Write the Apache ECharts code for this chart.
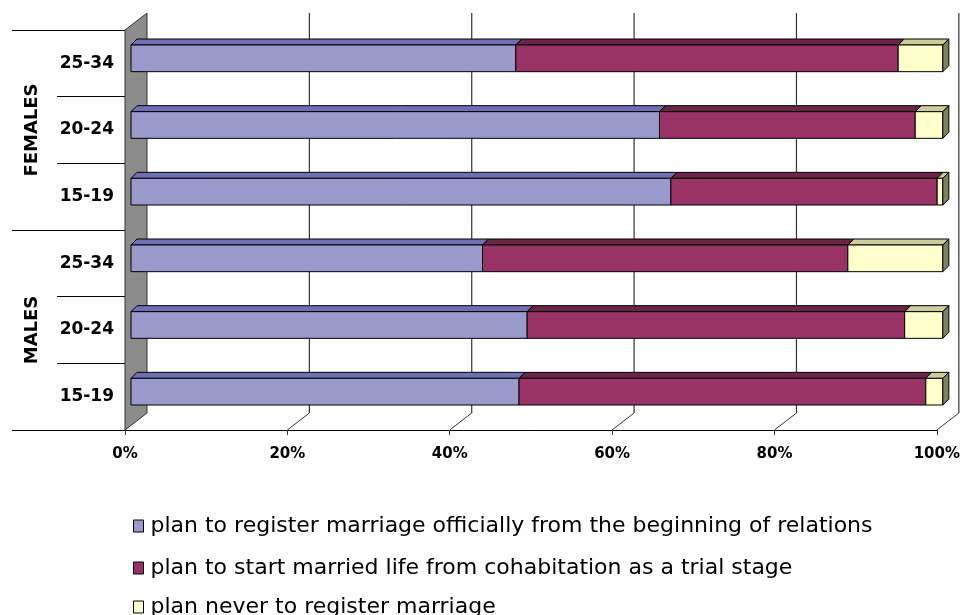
<!DOCTYPE html>
<html>
<head>
<meta charset="utf-8">
<script src="https://cdn.jsdelivr.net/npm/echarts@6/dist/echarts.min.js"></script>
<style>
  html, body { margin: 0; padding: 0; background: #fff; }
  #chart { width: 963px; height: 615px; }
</style>
</head>
<body>
<div id="chart"></div>
<script>
// categories, bottom to top
var ageLabels = ['15-19', '20-24', '25-34', '15-19', '20-24', '25-34'];
var groupLabels = ['MALES', 'FEMALES'];
var seriesNames = [
  'plan to register marriage officially from the beginning of relations',
  'plan to start married life from cohabitation as a trial stage',
  'plan never to register marriage'
];
// shares in %, same order as ageLabels
var registerOfficially = [47.8, 48.8, 43.3, 66.5, 65.1, 47.4];
var cohabitationFirst = [50.1, 46.5, 45.0, 32.8, 31.5, 47.1];
var neverRegister = [2.1, 4.7, 11.7, 0.7, 3.4, 5.5];
var xTicks = [0, 20, 40, 60, 80, 100];

var faceColors = [
  { front: '#9999cc', top: '#6f6fb5', side: '#55558a' },
  { front: '#993366', top: '#6b2347', side: '#4d1833' },
  { front: '#ffffcc', top: '#cccc9c', side: '#808062' }
];

// 3d look: depth of the whole plot box, and where the bars sit inside it
var BOX = [22, -17];
var BAR_OFF = [6, -5];
var BAR_DEP = [6, -6];

var all = [registerOfficially, cohabitationFirst, neverRegister];

function stackData(k) {
  return ageLabels.map(function (_, i) {
    var start = 0;
    for (var j = 0; j < k; j++) start += all[j][i];
    return [i, start, start + all[k][i]];
  });
}

function makeBarRender(k) {
  var c = faceColors[k];
  return function (params, api) {
    var cat = api.value(0);
    var s = api.value(1), e = api.value(2);
    var p0 = api.coord([s, cat]);
    var p1 = api.coord([e, cat]);
    var h = api.size([0, 1])[1] * 0.4;
    var x0 = p0[0] + BAR_OFF[0];
    var x1 = p1[0] + BAR_OFF[0];
    var yT = p0[1] + BAR_OFF[1] - h / 2;
    var yB = yT + h;
    var kids = [
      {
        type: 'polygon',
        shape: { points: [[x0, yT], [x0 + BAR_DEP[0], yT + BAR_DEP[1]], [x1 + BAR_DEP[0], yT + BAR_DEP[1]], [x1, yT]] },
        style: { fill: c.top, stroke: '#000', lineWidth: 1 }
      },
      {
        type: 'rect',
        shape: { x: x0, y: yT, width: x1 - x0, height: h },
        style: { fill: c.front, stroke: '#000', lineWidth: 1 }
      }
    ];
    if (k === all.length - 1) {
      kids.push({
        type: 'polygon',
        shape: { points: [[x1, yT], [x1 + BAR_DEP[0], yT + BAR_DEP[1]], [x1 + BAR_DEP[0], yB + BAR_DEP[1]], [x1, yB]] },
        style: { fill: c.side, stroke: '#000', lineWidth: 1 }
      });
    }
    return { type: 'group', children: kids };
  };
}

function renderBox(params, api) {
  var cs = params.coordSys;
  var v = api.value(0);
  var x = api.coord([v, 0])[0];
  var top = cs.y, bot = cs.y + cs.height;
  var kids = [];
  if (v === 0) {
    kids.push({
      type: 'polygon',
      shape: { points: [[x, top], [x + BOX[0], top + BOX[1]], [x + BOX[0], bot + BOX[1]], [x, bot]] },
      style: { fill: '#8c8c8c', stroke: '#333', lineWidth: 1 }
    });
  } else {
    kids.push({
      type: 'line',
      shape: { x1: x + BOX[0], y1: top + BOX[1], x2: x + BOX[0], y2: bot + BOX[1] },
      style: { stroke: '#333', lineWidth: 1.2 }
    });
    kids.push({
      type: 'line',
      shape: { x1: x + BOX[0], y1: bot + BOX[1], x2: x, y2: bot },
      style: { stroke: '#333', lineWidth: 1 }
    });
  }
  return { type: 'group', children: kids };
}

var series = [{
  type: 'custom',
  name: 'box',
  renderItem: renderBox,
  encode: { x: 0, y: 1 },
  data: xTicks.map(function (v) { return [v, 0]; }),
  silent: true,
  z: 1
}];
seriesNames.forEach(function (name, k) {
  series.push({
    type: 'custom',
    name: name,
    renderItem: makeBarRender(k),
    encode: { x: [1, 2], y: 0 },
    itemStyle: { color: faceColors[k].front },
    data: stackData(k),
    z: 2 + k
  });
});

// one legend block per row so they stack like the original
var legendTops = [510, 552, 591];
var legends = seriesNames.map(function (name, k) {
  return {
    data: [name],
    orient: 'vertical',
    left: 128,
    top: legendTops[k],
    itemWidth: 10,
    itemHeight: 12,
    itemGap: 5,
    icon: 'rect',
    itemStyle: { borderColor: '#000', borderWidth: 1 },
    textStyle: { color: '#000', fontFamily: 'DejaVu Sans', fontSize: 22, padding: [0, 0, 0, 2] }
  };
});

var myChart = echarts.init(document.getElementById('chart'));
var option = {
  animation: false,
  grid: { left: 125, right: 26, top: 30, bottom: 185 },
  xAxis: {
    type: 'value',
    min: 0,
    max: 100,
    interval: 20,
    axisLine: { show: true, lineStyle: { color: '#000', width: 1 } },
    axisTick: { show: true, length: 5, lineStyle: { color: '#333' } },
    splitLine: { show: false },
    axisLabel: {
      formatter: '{value}%',
      margin: 17,
      color: '#000',
      fontFamily: 'DejaVu Sans',
      fontWeight: 'bold',
      fontSize: 15
    }
  },
  yAxis: [
    {
      type: 'category',
      data: ageLabels,
      axisLine: { show: false },
      axisTick: { show: true, length: 68, lineStyle: { color: '#000' } },
      axisLabel: {
        margin: 11,
        color: '#000',
        fontFamily: 'DejaVu Sans',
        fontWeight: 'bold',
        fontSize: 17
      }
    },
    {
      type: 'category',
      data: groupLabels,
      position: 'left',
      axisLine: { show: false },
      axisTick: { show: true, length: 113, lineStyle: { color: '#000' } },
      axisLabel: {
        rotate: 90,
        margin: 84,
        color: '#000',
        fontFamily: 'DejaVu Sans',
        fontWeight: 'bold',
        fontSize: 18
      }
    }
  ],
  legend: legends,
  series: series
};
option && myChart.setOption(option);
window.addEventListener('resize', function () {
  myChart.resize();
});
</script>
</body>
</html>
